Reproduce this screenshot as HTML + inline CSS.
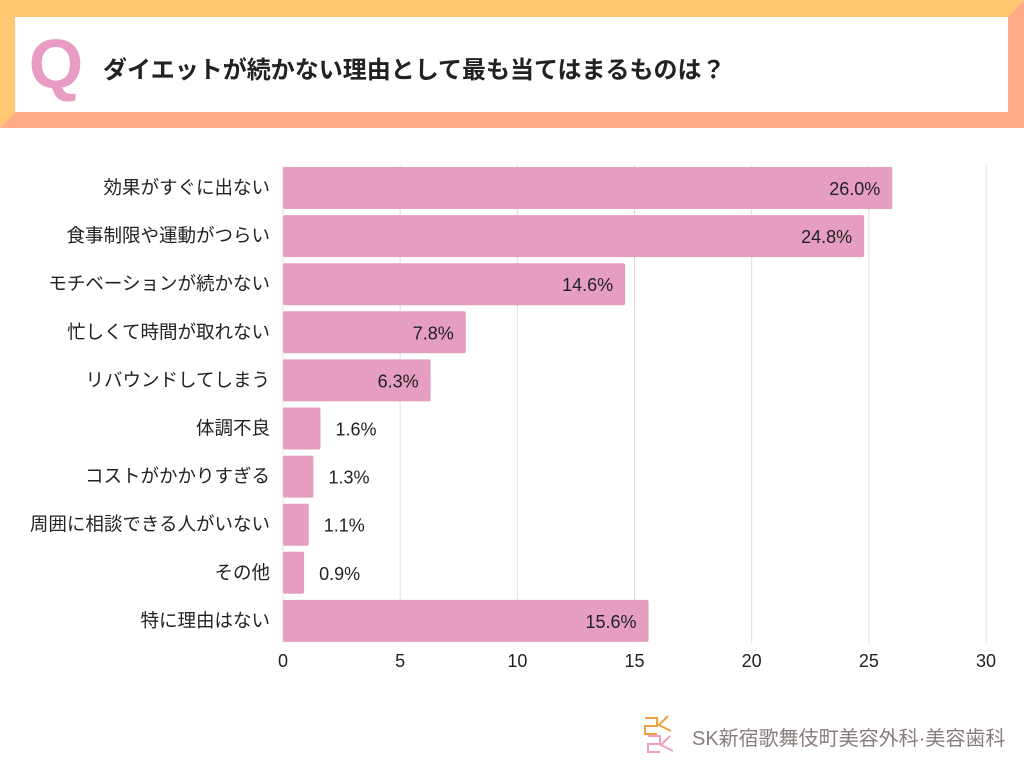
<!DOCTYPE html>
<html><head><meta charset="utf-8">
<style>
body{margin:0;width:1024px;height:768px;background:#fff;overflow:hidden;font-family:"Liberation Sans","Noto Sans CJK JP",sans-serif;}
svg text{font-family:"Liberation Sans","Noto Sans CJK JP",sans-serif;}
</style></head>
<body>
<svg width="1024" height="768" viewBox="0 0 1024 768">
  <g>
    <rect x="0" y="0" width="1024" height="130" fill="#fff"/>
    <polygon points="0,0 1024,0 1008,17 15,17 15,112 0,128" fill="#ffc870"/>
    <polygon points="1024,0 1024,128 0,128 15,112 1008,112 1008,17" fill="#ffaa88"/>
    <rect x="15" y="17" width="993" height="95" fill="#fff"/>
    <text x="56" y="88" font-size="70" font-weight="bold" fill="#e89cc4" text-anchor="middle" font-family="Liberation Serif, serif">Q</text>
    <text x="103" y="78" font-size="24" font-weight="bold" fill="#222">ダイエットが続かない理由として最も当てはまるものは？</text>
  </g>
  <g id="grid"></g>
  <g id="bars"></g>
  <g id="xticks"></g>
  <g>
    <path d="M645,718 h12 v8 h-12 v8 h12 M668,716 l-9,9 l12,6" stroke="#f0a040" stroke-width="2" fill="none"/>
    <path d="M648,736 h12 v8 h-12 v8 h12 M670,736 l-9,9 l12,6" stroke="#f0a0c0" stroke-width="2" fill="none"/>
    <text x="692" y="745" font-size="20" fill="#8a7c7c">SK新宿歌舞伎町美容外科·美容歯科</text>
  </g>
</svg>
<script>
const categories=["効果がすぐに出ない","食事制限や運動がつらい","モチベーションが続かない","忙しくて時間が取れない","リバウンドしてしまう","体調不良","コストがかかりすぎる","周囲に相談できる人がいない","その他","特に理由はない"];
const values=[26.0,24.8,14.6,7.8,6.3,1.6,1.3,1.1,0.9,15.6];
const valueLabels=["26.0%","24.8%","14.6%","7.8%","6.3%","1.6%","1.3%","1.1%","0.9%","15.6%"];
const ticks=[0,5,10,15,20,25,30];
const NS="http://www.w3.org/2000/svg";
const x0=283,x1=986,xmax=30,top0=167,pitch=48.1,bh=42;
const xs=v=>x0+(x1-x0)*v/xmax;
const ys=i=>top0+i*pitch;
const mk=(t,a,p)=>{const e=document.createElementNS(NS,t);for(const k in a)e.setAttribute(k,a[k]);p.appendChild(e);return e;};
const grid=document.getElementById('grid'),bars=document.getElementById('bars'),xt=document.getElementById('xticks');
ticks.forEach(t=>{
  const l=mk('line',{x1:xs(t),x2:xs(t),y1:165,y2:643,stroke:'#e4dde2','stroke-width':1},grid);
  
  
  const tx=mk('text',{x:xs(t),y:667,'font-size':18,'text-anchor':'middle',fill:'#222'},xt);
  tx.textContent=t;
  
  
});
categories.forEach((c,i)=>{
  const y=ys(i),w=xs(values[i])-x0;
  const r=mk('rect',{x:x0,y:y,width:w,height:bh,rx:2,fill:'#e59dc0'},bars);
  
  
  const lb=mk('text',{x:270,y:y+bh/2+6,'font-size':18.5,'text-anchor':'end',fill:'#222'},bars);
  lb.textContent=c;
  
  
  const inside=values[i]>5;
  const vl=mk('text',{x:inside?xs(values[i])-12:xs(values[i])+15,y:y+bh/2+7,'font-size':18,'text-anchor':inside?'end':'start',fill:'#222'},bars);
  vl.textContent=valueLabels[i];
  
  
});
</script>
</body></html>
